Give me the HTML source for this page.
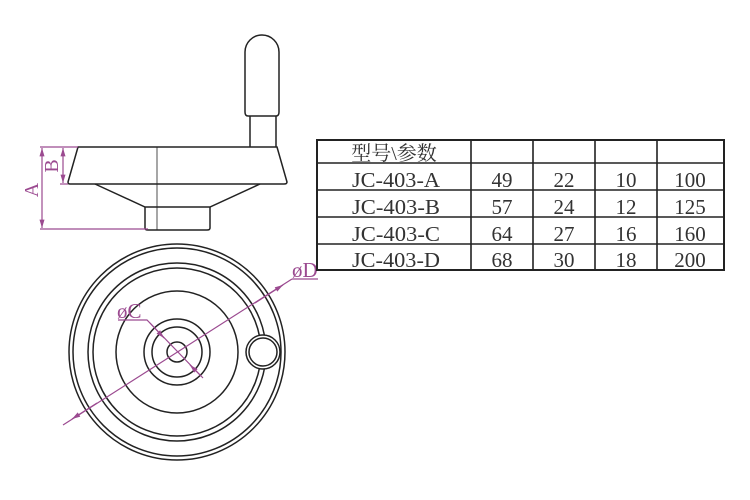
<!DOCTYPE html>
<html><head><meta charset="utf-8"><style>
body{margin:0;background:#fff}
svg{display:block}
text{font-family:"Liberation Serif","Noto Serif CJK SC",serif}
</style></head><body>
<svg width="750" height="500" viewBox="0 0 750 500" xmlns="http://www.w3.org/2000/svg">
<defs>
<marker id="ar" viewBox="0 0 10 10" refX="10" refY="5" markerWidth="7" markerHeight="7" orient="auto-start-reverse"><path d="M0,2 L10,5 L0,8 z" fill="#9b4a90"/></marker>
</defs>
<g fill="none" stroke="#222" stroke-width="1.5">
<path d="M245,112 L245,52 A17,17 0 0 1 279,52 L279,112 Q279,116 276,116 L248,116 Q245,116 245,112 Z"/>
<path d="M250,116 L250,147 M276,116 L276,147"/>
<path d="M78,147 L277,147 L287,182 Q287,184 284,184 L70,184 Q68,184 68,182 Z"/>
<path d="M95,184 L145,207 L210,207 L260,184"/>
<path d="M145,207 L145,228 Q145,230 148,230 L207,230 Q210,230 210,228 L210,207"/>
<line x1="157" y1="147" x2="157" y2="230" stroke-width="0.8"/>
<circle cx="177" cy="352" r="108"/>
<circle cx="177" cy="352" r="104"/>
<circle cx="177" cy="352" r="89"/>
<circle cx="177" cy="352" r="84"/>
<circle cx="177" cy="352" r="61"/>
<circle cx="177" cy="352" r="33"/>
<circle cx="177" cy="352" r="25"/>
<circle cx="177" cy="352" r="10"/>
<circle cx="263" cy="352" r="17" fill="#fff"/>
<circle cx="263" cy="352" r="14"/>
</g>
<g stroke="#9b4a90" stroke-width="1.2" fill="none">
<line x1="40" y1="147" x2="78" y2="147"/>
<line x1="40" y1="229" x2="148" y2="229"/>
<line x1="60" y1="184" x2="68" y2="184"/>
<line x1="42" y1="148" x2="42" y2="228" marker-start="url(#ar)" marker-end="url(#ar)"/>
<line x1="63" y1="148" x2="63" y2="183" marker-start="url(#ar)" marker-end="url(#ar)"/>
<line x1="63" y1="425" x2="292" y2="279"/>
<line x1="72" y1="419" x2="97" y2="403" marker-start="url(#ar)"/>
<line x1="255" y1="303" x2="283" y2="285" marker-end="url(#ar)"/>
<line x1="292" y1="279" x2="318" y2="279"/>
<polyline points="118,320 147,320 203,378"/>
<line x1="150" y1="323" x2="164" y2="338" marker-end="url(#ar)"/>
<line x1="200" y1="375" x2="190" y2="365" marker-end="url(#ar)"/>
</g>
<g fill="#9b4a90" font-size="20">
<text transform="translate(38,190) rotate(-90)" text-anchor="middle">A</text>
<text transform="translate(58,166) rotate(-90)" text-anchor="middle">B</text>
<text x="117" y="318" font-size="21">øC</text>
<text x="292" y="277" font-size="21">øD</text>
</g>
<g stroke="#222" fill="none">
<rect x="317" y="140" width="407" height="130" stroke-width="2"/>
<g stroke-width="1.6">
<line x1="317" y1="163" x2="724" y2="163"/>
<line x1="317" y1="190" x2="724" y2="190"/>
<line x1="317" y1="217" x2="724" y2="217"/>
<line x1="317" y1="244" x2="724" y2="244"/>
<line x1="471" y1="140" x2="471" y2="270"/>
<line x1="533" y1="140" x2="533" y2="270"/>
<line x1="595" y1="140" x2="595" y2="270"/>
<line x1="657" y1="140" x2="657" y2="270"/>
</g>
</g>
<g fill="#333" font-size="21" text-anchor="middle">
<text x="394" y="160" font-family="Noto Serif CJK SC,serif" font-size="20">型号\参数</text>
<text x="396" y="187" textLength="88" lengthAdjust="spacingAndGlyphs">JC-403-A</text><text x="502" y="187">49</text><text x="564" y="187">22</text><text x="626" y="187">10</text><text x="690" y="187">100</text>
<text x="396" y="214" textLength="88" lengthAdjust="spacingAndGlyphs">JC-403-B</text><text x="502" y="214">57</text><text x="564" y="214">24</text><text x="626" y="214">12</text><text x="690" y="214">125</text>
<text x="396" y="241" textLength="88" lengthAdjust="spacingAndGlyphs">JC-403-C</text><text x="502" y="241">64</text><text x="564" y="241">27</text><text x="626" y="241">16</text><text x="690" y="241">160</text>
<text x="396" y="267" textLength="88" lengthAdjust="spacingAndGlyphs">JC-403-D</text><text x="502" y="267">68</text><text x="564" y="267">30</text><text x="626" y="267">18</text><text x="690" y="267">200</text>
</g>
</svg>
</body></html>
